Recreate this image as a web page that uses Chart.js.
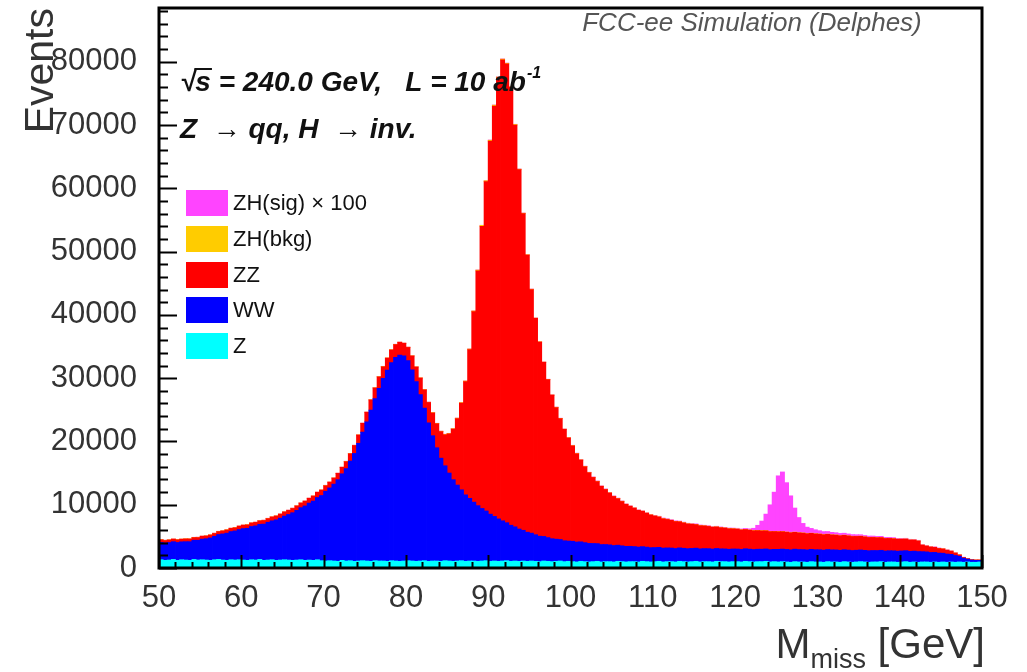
<!DOCTYPE html>
<html>
<head>
<meta charset="utf-8">
<script src="https://cdn.jsdelivr.net/npm/chart.js@4.4.0/dist/chart.umd.min.js"></script>
<style>
  html, body { margin: 0; padding: 0; background: #fff; }
  canvas { display: block; }
</style>
</head>
<body>
<canvas id="mmiss" width="1027" height="672"></canvas>
<script>
// 0.5 GeV bins from 50 to 150 GeV
const binLow = 50;
const binWidth = 0.5;
const nBins = 200;
const binCenters = [];
for (let i = 0; i < nBins; i++) binCenters.push(binLow + binWidth * (i + 0.5));

const xTicks = [50, 60, 70, 80, 90, 100, 110, 120, 130, 140, 150];
const yTicks = [0, 10000, 20000, 30000, 40000, 50000, 60000, 70000, 80000];

// events per bin, one line = 5 GeV
const zValues = [
  1300,1200,1250,1350,1200,1300,1250,1200,1350,1250,
  1300,1250,1200,1300,1350,1250,1200,1300,1250,1300,
  1250,1200,1300,1250,1350,1200,1250,1300,1200,1250,
  1300,1250,1200,1250,1300,1200,1250,1200,1300,1150,
  1100,1150,1100,1050,1200,1100,1150,1050,1100,1150,
  1100,1050,1150,1100,1100,1050,1150,1100,1050,1100,
  1150,1100,1050,1100,1150,1050,1100,1100,1050,1150,
  1100,1050,1100,1150,1050,1100,1100,1050,1100,1150,
  1050,1100,1050,1100,1150,1050,1100,1050,1100,1050,
  1100,1050,1000,1100,1050,1000,1050,1100,1000,1050,
  1000,950,1050,1000,950,1000,1050,950,1000,1000,
  950,1050,1000,950,1000,1000,950,1050,1000,950,
  1000,1050,950,1000,1000,950,1050,1000,950,1000,
  1050,950,1000,1000,950,1050,1000,1000,950,1000,
  1000,950,1050,1000,950,1000,1000,1050,950,1000,
  950,1000,950,900,1000,950,950,900,1000,950,
  950,900,1000,950,950,900,1000,950,900,950,
  1000,950,900,950,950,1000,900,950,950,900,
  950,1000,900,950,900,950,950,900,950,900,
  950,900,950,900,950,900,950,900,900,950
];

const wwValues = [
  2750,2730,2770,2800,2830,2830,2900,2950,3030,3130,
  3250,3370,3550,3700,3930,4130,4300,4450,4600,4770,
  4970,5070,5250,5400,5550,5730,5970,6150,6400,6630,
  6900,7200,7530,7850,8230,8600,9000,9370,9830,10300,
  11020,11500,12150,12900,13680,14600,15750,17050,18600,20300,
  22000,23900,25600,27300,28850,30200,31300,32200,32600,32400,
  31600,30200,28400,26300,24100,21900,19800,17900,16300,15000,
  13900,12900,12000,11200,10500,9900,9300,8800,8300,7850,
  7450,7050,6700,6350,6000,5700,5400,5100,4850,4600,
  4400,4200,4020,3880,3750,3620,3500,3400,3300,3200,
  3220,3150,3080,3000,2930,2870,2800,2750,2700,2650,
  2600,2550,2500,2460,2420,2380,2350,2320,2290,2260,
  2230,2210,2190,2170,2150,2130,2120,2110,2100,2090,
  2080,2070,2060,2050,2040,2030,2020,2010,2000,2000,
  1990,1980,1980,1970,1970,1960,1960,1950,1950,1940,
  1990,1980,1980,1970,1970,1960,1950,1950,1940,1940,
  1930,1920,1910,1910,1900,1890,1880,1870,1860,1850,
  1840,1830,1820,1810,1800,1790,1780,1770,1760,1750,
  1740,1730,1720,1710,1690,1630,1590,1550,1510,1450,
  1380,1300,1200,1070,900,650,450,350,300,250
];

const zzValues = [
  400,400,400,400,420,400,430,420,420,420,
  450,430,450,450,470,470,500,500,500,530,
  530,530,550,550,550,570,580,600,600,620,
  650,650,670,700,720,750,750,780,820,850,
  880,900,950,1000,1020,1100,1150,1250,1300,1400,
  1500,1600,1700,1800,1850,1900,2000,2000,2000,2000,
  2100,2200,2300,2600,2900,3200,3600,3800,4200,4900,
  6200,8000,10500,13700,17900,23500,30100,37100,44600,52050,
  58950,64850,69700,72850,72500,69200,63500,56800,50050,43800,
  38500,34200,30680,27520,24950,22680,20800,19100,17600,16300,
  15080,13950,12920,12000,11170,10430,9800,9200,8700,8200,
  7750,7350,7000,6640,6330,6070,5800,5580,5360,5160,
  4970,4790,4630,4490,4370,4250,4130,4010,3900,3810,
  3720,3650,3580,3510,3440,3390,3340,3290,3240,3180,
  3130,3080,3040,3000,2960,2940,2900,2870,2840,2810,
  2780,2750,2720,2690,2660,2630,2600,2560,2530,2490,
  2460,2430,2400,2360,2330,2300,2270,2240,2210,2180,
  2150,2120,2090,2060,2030,2000,1970,1940,1910,1880,
  1850,1820,1780,1740,1660,1020,910,850,790,720,
  670,600,500,380,200,100,50,50,50,50
];

const zhBkgValues = [
  40,50,40,30,40,50,40,40,30,50,
  40,40,50,40,30,40,50,40,40,30,
  40,50,40,40,30,50,40,40,50,40,
  30,40,50,40,40,30,40,50,40,40,
  50,40,40,30,40,50,40,40,50,40,
  40,50,40,40,50,60,50,40,50,40,
  50,40,50,60,50,50,60,50,60,70,
  60,70,80,90,100,110,120,130,140,150,
  150,140,130,120,110,100,90,80,70,60,
  60,50,60,50,50,40,50,40,50,40,
  40,50,40,40,30,40,50,40,40,30,
  40,40,50,40,30,40,40,50,40,40,
  30,40,40,50,40,40,30,40,40,50,
  40,40,30,40,50,40,40,30,40,40,
  50,40,40,30,40,40,50,40,40,30,
  40,40,30,40,40,30,40,40,30,40,
  30,40,40,30,40,30,40,30,40,30,
  40,30,30,40,30,40,30,30,40,30,
  30,40,30,30,30,40,30,30,30,30,
  30,30,20,30,30,20,20,20,20,20
];

// ZH signal scaled by 100
const zhSigValues = [
  20,20,20,20,20,20,20,20,20,20,
  20,20,20,20,20,20,20,20,20,20,
  20,20,20,20,20,20,20,20,20,20,
  20,20,20,20,20,20,20,20,20,20,
  20,20,20,20,20,20,20,20,20,20,
  20,20,20,20,20,20,20,20,20,20,
  20,20,20,20,20,20,20,20,20,20,
  20,20,20,20,20,20,20,20,20,20,
  30,30,30,30,30,30,30,30,30,30,
  30,30,30,30,30,30,30,30,30,30,
  50,50,50,50,50,50,50,50,50,50,
  50,50,50,50,50,50,50,50,50,50,
  80,80,80,80,80,80,80,80,80,80,
  80,80,80,80,80,80,80,80,80,80,
  100,110,130,180,350,800,1500,2600,4200,6200,
  8800,9400,7800,5800,3800,2400,1500,1000,750,620,
  520,460,410,380,350,330,300,280,260,240,
  220,200,190,180,170,160,150,140,130,120,
  110,100,100,90,90,80,80,70,60,60,
  50,50,40,40,30,30,30,20,20,20
];

const yMax = 88500;
const fontFamily = '"Liberation Sans", Arial, Helvetica, sans-serif';
const textColor = '#333';

const overlay = {
  id: 'overlay',
  afterDraw(chart) {
    const ctx = chart.ctx;
    const a = chart.chartArea;
    const x = chart.scales.x;
    const y = chart.scales.y;
    ctx.save();

    // inward ticks, ROOT style
    ctx.strokeStyle = '#000';
    ctx.lineWidth = 2;
    ctx.beginPath();
    for (let v = 0; v <= yMax; v += 2000) {
      const len = v % 10000 === 0 ? 18 : 9;
      const py = Math.round(y.getPixelForValue(v)) + 0.5;
      ctx.moveTo(a.left, py);
      ctx.lineTo(a.left + len, py);
    }
    for (let v = 50; v <= 150; v += 2) {
      const len = v % 10 === 0 ? 13 : 6;
      const px = Math.round(x.getPixelForValue(v)) + 0.5;
      ctx.moveTo(px, a.bottom);
      ctx.lineTo(px, a.bottom - len);
    }
    ctx.stroke();

    // frame
    ctx.lineWidth = 3;
    ctx.strokeRect(a.left, a.top, a.right - a.left, a.bottom - a.top);

    // header
    ctx.fillStyle = '#555';
    ctx.font = 'italic 26px ' + fontFamily;
    ctx.textAlign = 'center';
    ctx.textBaseline = 'alphabetic';
    ctx.fillText('FCC-ee Simulation (Delphes)', 752, 31);

    // process info
    ctx.fillStyle = '#111';
    ctx.textAlign = 'left';
    ctx.font = 'italic bold 28px ' + fontFamily;
    const line1 = '\u221As = 240.0 GeV,   L = 10 ab';
    ctx.fillText(line1, 180, 91);
    const wRoot = ctx.measureText('\u221A').width;
    const wS = ctx.measureText('s').width;
    ctx.lineWidth = 2;
    ctx.beginPath();
    ctx.moveTo(180 + wRoot - 1, 69);
    ctx.lineTo(180 + wRoot + wS + 1, 69);
    ctx.strokeStyle = '#111';
    ctx.stroke();
    const w1 = ctx.measureText(line1).width;
    ctx.font = 'italic bold 16px ' + fontFamily;
    ctx.fillText('-1', 180 + w1 + 1, 78);
    ctx.font = 'italic bold 28px ' + fontFamily;
    ctx.fillText('Z  \u2192 qq, H  \u2192 inv.', 180, 138);

    // legend, top of the stack first
    const sets = chart.data.datasets.slice().reverse();
    const rowY = [203, 239, 275, 310, 346];
    ctx.font = '22px ' + fontFamily;
    ctx.textBaseline = 'middle';
    sets.forEach((ds, i) => {
      ctx.fillStyle = ds.backgroundColor;
      ctx.fillRect(186, rowY[i] - 13, 42, 26);
      ctx.fillStyle = '#111';
      ctx.fillText(ds.label, 233, rowY[i] + 1);
    });

    // axis titles
    ctx.fillStyle = textColor;
    ctx.textBaseline = 'alphabetic';
    ctx.save();
    ctx.translate(53, 8);
    ctx.rotate(-Math.PI / 2);
    ctx.textAlign = 'right';
    ctx.font = '41px ' + fontFamily;
    ctx.fillText('Events', 0, 0);
    ctx.restore();

    ctx.textAlign = 'left';
    ctx.font = '42px ' + fontFamily;
    const wM = ctx.measureText('M').width;
    const wRest = ctx.measureText(' [GeV]').width;
    ctx.font = '27px ' + fontFamily;
    const wSub = ctx.measureText('miss').width;
    let sx = 985 - (wM + wSub + wRest);
    ctx.font = '42px ' + fontFamily;
    ctx.fillText('M', sx, 658);
    ctx.font = '27px ' + fontFamily;
    ctx.fillText('miss', sx + wM, 668);
    ctx.font = '42px ' + fontFamily;
    ctx.fillText(' [GeV]', sx + wM + wSub, 658);

    ctx.restore();
  }
};

const ctx = document.getElementById('mmiss').getContext('2d');
const chart = new Chart(ctx, {
  type: 'bar',
  data: {
    labels: binCenters,
    datasets: [
      { label: 'Z', data: zValues, backgroundColor: '#00ffff' },
      { label: 'WW', data: wwValues, backgroundColor: '#0000ff' },
      { label: 'ZZ', data: zzValues, backgroundColor: '#ff0000' },
      { label: 'ZH(bkg)', data: zhBkgValues, backgroundColor: '#ffcc00' },
      { label: 'ZH(sig) \u00d7 100', data: zhSigValues, backgroundColor: '#ff44ff' }
    ]
  },
  options: {
    responsive: false,
    animation: false,
    layout: { padding: { top: 8, right: 45, left: 0, bottom: 0 } },
    datasets: {
      bar: { barPercentage: 1, categoryPercentage: 1, borderWidth: 0, inflateAmount: 0.4 }
    },
    plugins: {
      legend: { display: false },
      tooltip: { enabled: false }
    },
    scales: {
      x: {
        type: 'linear',
        stacked: true,
        min: 50,
        max: 150,
        offset: false,
        grid: { display: false, drawTicks: false },
        border: { display: false },
        ticks: {
          stepSize: 10,
          padding: 12,
          maxRotation: 0,
          autoSkip: false,
          color: textColor,
          font: { family: fontFamily, size: 31 }
        },
        afterBuildTicks: s => { s.ticks = xTicks.map(v => ({ value: v })); },
        afterFit: s => { s.height = 104; s.paddingLeft = 0; s.paddingRight = 0; }
      },
      y: {
        stacked: true,
        min: 0,
        max: yMax,
        grid: { display: false, drawTicks: false },
        border: { display: false },
        ticks: {
          padding: 22,
          color: textColor,
          font: { family: fontFamily, size: 31 },
          callback: v => String(v)
        },
        afterBuildTicks: s => { s.ticks = yTicks.map(v => ({ value: v })); },
        afterFit: s => { s.width = 159; s.paddingTop = 0; s.paddingBottom = 0; }
      }
    }
  },
  plugins: [overlay]
});
</script>
</body>
</html>
